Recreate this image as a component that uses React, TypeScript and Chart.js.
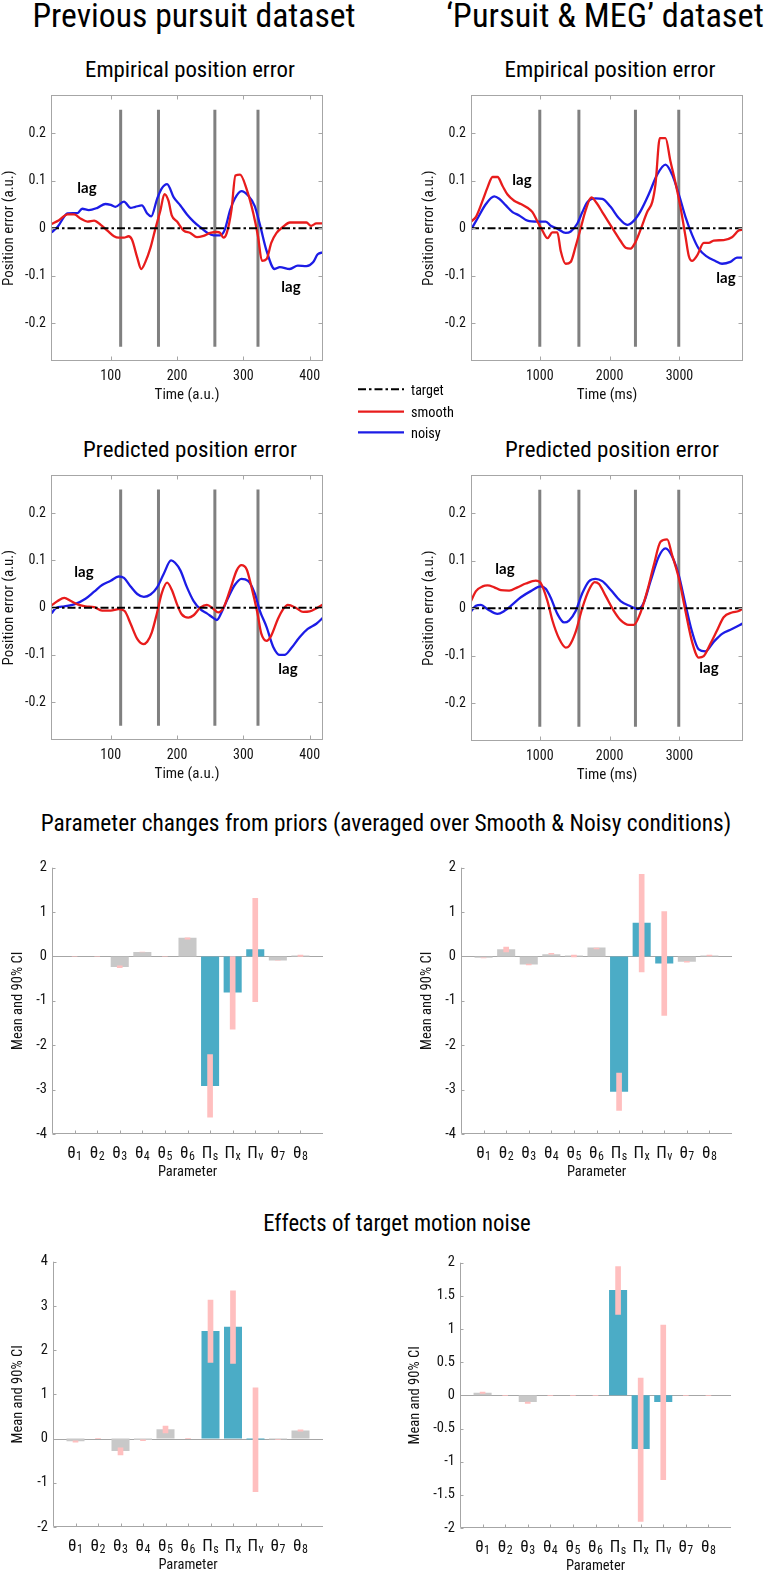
import React, { useEffect, useLayoutEffect, useRef } from 'react';
import { Chart, registerables } from 'chart.js';

Chart.register(...registerables);

// ---------------- data ----------------
const TIME_TICKS_AU = [100, 200, 300, 400];
const TIME_TICKS_MS = [1000, 2000, 3000];
const POS_TICKS = [-0.2, -0.1, 0, 0.1, 0.2];
const EVENTS_AU = [115, 172, 257, 322];
const EVENTS_MS = [1000, 1560, 2370, 2990];
const EVENT_SPAN = [-0.25, 0.25];

// Empirical, previous dataset
const EMP_PREV_SMOOTH_T = [11, 22, 35, 45, 55, 65, 75, 85, 95, 105, 112, 120, 127, 132, 140, 146, 152, 160, 167, 175, 181, 187, 192, 200, 210, 220, 230, 240, 250, 260, 265, 270, 275, 282, 288, 295, 305, 315, 322, 328, 335, 342, 350, 360, 370, 380, 395, 402, 410, 420];
const EMP_PREV_SMOOTH = [0.009, 0.017, 0.029, 0.029, 0.02, 0.014, 0.016, 0.007, -0.005, -0.017, -0.02, -0.02, -0.017, -0.024, -0.062, -0.086, -0.072, -0.041, -0.003, 0.038, 0.072, 0.058, 0.027, 0.014, -0.005, -0.01, -0.019, -0.016, -0.01, -0.008, -0.01, -0.02, -0.01, 0.038, 0.111, 0.113, 0.082, 0.031, -0.017, -0.069, -0.065, -0.031, -0.01, 0.003, 0.012, 0.012, 0.012, 0.005, 0.01, 0.01];
const EMP_PREV_NOISY_T = [11, 20, 35, 50, 57, 67, 80, 92, 100, 107, 120, 130, 137, 147, 155, 161, 170, 177, 185, 195, 205, 215, 225, 235, 245, 255, 265, 272, 280, 287, 297, 307, 317, 325, 335, 347, 355, 370, 382, 395, 405, 412, 420];
const EMP_PREV_NOISY = [-0.009, 0.003, 0.031, 0.032, 0.041, 0.038, 0.043, 0.051, 0.049, 0.045, 0.056, 0.043, 0.045, 0.048, 0.031, 0.025, 0.062, 0.084, 0.093, 0.065, 0.048, 0.029, 0.014, 0.002, -0.009, -0.015, -0.015, -0.003, 0.038, 0.062, 0.078, 0.069, 0.047, 0.007, -0.048, -0.086, -0.082, -0.086, -0.079, -0.08, -0.072, -0.055, -0.051];

// Empirical, Pursuit & MEG dataset
const EMP_MEG_SMOOTH_T = [15, 86, 181, 252, 324, 395, 467, 538, 633, 729, 824, 895, 967, 1038, 1110, 1181, 1252, 1300, 1371, 1443, 1514, 1586, 1657, 1738, 1814, 1895, 1967, 2062, 2157, 2229, 2300, 2371, 2443, 2538, 2610, 2657, 2719, 2800, 2871, 2943, 3014, 3086, 3133, 3181, 3252, 3348, 3419, 3490, 3633, 3752, 3848, 3910];
const EMP_MEG_SMOOTH = [0.014, 0.024, 0.058, 0.086, 0.108, 0.108, 0.089, 0.071, 0.058, 0.051, 0.043, 0.034, 0.014, -0.005, -0.021, -0.009, -0.009, -0.048, -0.075, -0.071, -0.038, 0, 0.038, 0.065, 0.053, 0.034, 0.017, -0.005, -0.027, -0.041, -0.043, -0.029, -0.003, 0.034, 0.055, 0.093, 0.19, 0.19, 0.141, 0.096, 0.045, -0.017, -0.058, -0.069, -0.058, -0.031, -0.031, -0.026, -0.025, -0.019, -0.005, -0.003];
const EMP_MEG_NOISY_T = [15, 110, 229, 348, 419, 514, 610, 705, 824, 967, 1086, 1157, 1252, 1371, 1443, 1538, 1610, 1681, 1800, 1895, 2014, 2133, 2252, 2348, 2443, 2562, 2681, 2800, 2895, 2990, 3086, 3181, 3276, 3395, 3514, 3610, 3729, 3824, 3910];
const EMP_MEG_NOISY = [-0.003, 0.021, 0.051, 0.067, 0.062, 0.048, 0.034, 0.027, 0.016, 0.014, 0.014, 0.005, -0.001, -0.01, -0.007, 0.01, 0.034, 0.055, 0.063, 0.062, 0.045, 0.021, 0.007, 0.016, 0.036, 0.072, 0.113, 0.134, 0.113, 0.072, 0.024, -0.014, -0.043, -0.06, -0.069, -0.075, -0.071, -0.062, -0.062];

// Predicted, previous dataset
const PRED_PREV_SMOOTH_T = [11, 20, 30, 40, 50, 62, 75, 87, 100, 112, 121, 130, 140, 149, 155, 162, 170, 177, 185, 192, 200, 207, 217, 225, 235, 245, 255, 262, 270, 280, 290, 297, 305, 312, 321, 327, 335, 342, 352, 360, 367, 380, 390, 400, 410, 420];
const PRED_PREV_SMOOTH = [0.005, 0.014, 0.021, 0.014, 0.007, 0.003, 0.001, -0.006, -0.006, -0.003, -0.007, -0.034, -0.066, -0.077, -0.072, -0.052, -0.01, 0.031, 0.053, 0.038, 0.007, -0.014, -0.021, -0.016, 0, 0.006, -0.003, -0.01, 0, 0.038, 0.079, 0.09, 0.081, 0.045, -0.01, -0.055, -0.07, -0.059, -0.024, -0.003, 0.006, -0.001, -0.009, -0.008, -0.001, 0.007];
const PRED_PREV_NOISY_T = [11, 17, 30, 45, 62, 75, 87, 100, 112, 120, 130, 140, 150, 160, 170, 180, 191, 197, 205, 215, 225, 235, 245, 255, 260, 267, 277, 287, 297, 307, 317, 325, 335, 345, 355, 362, 372, 385, 397, 410, 420];
const PRED_PREV_NOISY = [-0.012, -0.001, 0.003, 0.007, 0.019, 0.034, 0.048, 0.057, 0.066, 0.063, 0.045, 0.029, 0.023, 0.028, 0.043, 0.072, 0.1, 0.095, 0.079, 0.043, 0.014, -0.003, -0.012, -0.022, -0.026, -0.01, 0.021, 0.048, 0.061, 0.057, 0.031, -0.007, -0.041, -0.083, -0.1, -0.1, -0.086, -0.062, -0.045, -0.034, -0.021];

// Predicted, Pursuit & MEG dataset
const PRED_MEG_SMOOTH_T = [15, 86, 181, 252, 348, 443, 562, 681, 800, 943, 1014, 1110, 1181, 1276, 1371, 1419, 1514, 1610, 1705, 1786, 1848, 1943, 2062, 2157, 2276, 2348, 2443, 2538, 2633, 2729, 2824, 2895, 2990, 3086, 3181, 3276, 3348, 3443, 3538, 3633, 3752, 3848, 3910];
const PRED_MEG_SMOOTH = [0.015, 0.036, 0.046, 0.048, 0.044, 0.038, 0.037, 0.044, 0.052, 0.058, 0.053, 0.015, -0.026, -0.064, -0.083, -0.08, -0.05, 0.001, 0.039, 0.055, 0.051, 0.026, -0.006, -0.025, -0.035, -0.035, -0.009, 0.036, 0.091, 0.14, 0.145, 0.112, 0.064, -0.006, -0.071, -0.104, -0.101, -0.075, -0.047, -0.019, -0.009, -0.006, 0];
const PRED_MEG_NOISY_T = [15, 86, 157, 252, 395, 490, 610, 729, 871, 1014, 1086, 1157, 1252, 1348, 1419, 1514, 1610, 1705, 1800, 1895, 2014, 2157, 2300, 2405, 2490, 2586, 2705, 2800, 2895, 2990, 3086, 3181, 3276, 3371, 3490, 3610, 3752, 3910];
const PRED_MEG_NOISY = [-0.007, 0.005, 0.007, -0.002, -0.012, -0.006, 0.008, 0.023, 0.036, 0.046, 0.041, 0.022, -0.012, -0.03, -0.026, -0.006, 0.032, 0.057, 0.062, 0.057, 0.039, 0.015, 0.004, -0.002, 0.012, 0.057, 0.109, 0.126, 0.109, 0.07, 0.008, -0.05, -0.087, -0.091, -0.071, -0.054, -0.044, -0.032];

// Parameters
const PARAMETERS = ['θ1', 'θ2', 'θ3', 'θ4', 'θ5', 'θ6', 'Πs', 'Πx', 'Πv', 'θ7', 'θ8'];

const PRIOR_PREV_MEAN = [0, 0, -0.24, 0.1, 0, 0.42, -2.92, -0.81, 0.16, -0.09, 0.02];
const PRIOR_PREV_LO = [0, 0, -0.25, 0.1, 0, 0.39, -3.62, -1.64, -1.02, -0.09, 0.0];
const PRIOR_PREV_HI = [0, 0, -0.21, 0.1, 0, 0.42, -2.21, 0.0, 1.31, -0.09, 0.03];

const PRIOR_MEG_MEAN = [-0.03, 0.16, -0.18, 0.05, 0.02, 0.2, -3.05, 0.76, -0.16, -0.12, 0.02];
const PRIOR_MEG_LO = [-0.03, 0.1, -0.19, 0.05, -0.01, 0.17, -3.47, -0.35, -1.33, -0.13, 0.01];
const PRIOR_MEG_HI = [-0.03, 0.21, -0.17, 0.07, 0.03, 0.19, -2.63, 1.85, 1.01, -0.11, 0.03];

const NOISE_PREV_MEAN = [-0.06, 0, -0.28, -0.03, 0.21, 0, 2.43, 2.53, -0.02, -0.02, 0.18];
const NOISE_PREV_LO = [-0.08, 0, -0.37, -0.05, 0.13, 0, 1.72, 1.7, -1.2, -0.02, 0.17];
const NOISE_PREV_HI = [-0.05, 0, -0.21, -0.03, 0.28, 0, 3.13, 3.34, 1.15, -0.02, 0.2];

const NOISE_MEG_MEAN = [0.04, 0, -0.1, 0, 0, 0, 1.59, -0.81, -0.1, 0, 0];
const NOISE_MEG_LO = [0.03, 0, -0.12, 0, 0, 0, 1.22, -1.9, -1.27, 0, 0];
const NOISE_MEG_HI = [0.05, 0, -0.1, 0, 0, 0, 1.94, 0.26, 1.06, 0, 0];

const PRIOR_TICKS = [-4, -3, -2, -1, 0, 1, 2];
const NOISE_PREV_TICKS = [-2, -1, 0, 1, 2, 3, 4];
const NOISE_MEG_TICKS = [-2, -1.5, -1, -0.5, 0, 0.5, 1, 1.5, 2];

// ---------------- style ----------------
const FONT = "'Roboto Condensed', 'Liberation Sans', Arial, sans-serif";
const LAG_FONT = "Lato, 'Open Sans', sans-serif";
const RED = '#e81c1c';
const BLUE = '#1c1ce6';
const EVENT_GRAY = '#808080';
const BOX_GRAY = '#a6a6a6';
const TEAL = '#4bacc6';
const BAR_GRAY = '#c8c8c8';
const PINK = '#ffbfbf';
const TEXT = '#111111';

const LINE_TICK = 14;
const LINE_TITLE = 15;
const BAR_TICK = 14.5;
const BAR_TITLE = 14.5;
const CAT_SIZE = 17;
const SUB_SIZE = 12;

Chart.defaults.font.family = FONT;

const zip = (t: number[], v: number[]) => t.map((x, i) => ({ x, y: v[i] }));

// ---------------- plugins ----------------
const boxPlugin = {
  id: 'matlabBox',
  afterDatasetsDraw(chart: any) {
    const { ctx, chartArea: a, scales } = chart;
    const x = scales.x, y = scales.y;
    ctx.save();
    ctx.strokeStyle = BOX_GRAY;
    ctx.lineWidth = 1;
    const l = Math.round(a.left) + 0.5, r = Math.round(a.right) - 0.5;
    const t = Math.round(a.top) + 0.5, b = Math.round(a.bottom) - 0.5;
    ctx.strokeRect(l, t, r - l, b - t);
    ctx.beginPath();
    x.ticks.forEach((tk: any) => {
      const px = Math.round(x.getPixelForValue(tk.value)) + 0.5;
      ctx.moveTo(px, b); ctx.lineTo(px, b - 4);
      ctx.moveTo(px, t); ctx.lineTo(px, t + 4);
    });
    y.ticks.forEach((tk: any) => {
      const py = Math.round(y.getPixelForValue(tk.value)) + 0.5;
      ctx.moveTo(l, py); ctx.lineTo(l + 4, py);
      ctx.moveTo(r, py); ctx.lineTo(r - 4, py);
    });
    ctx.stroke();
    ctx.restore();
  },
};

const barAxesPlugin = {
  id: 'barAxes',
  beforeDatasetsDraw(chart: any) {
    const { ctx, chartArea: a, scales } = chart;
    const y0 = Math.round(scales.y.getPixelForValue(0)) + 0.5;
    ctx.save();
    ctx.strokeStyle = BOX_GRAY;
    ctx.lineWidth = 1;
    ctx.beginPath();
    ctx.moveTo(a.left, y0);
    ctx.lineTo(a.right, y0);
    ctx.stroke();
    ctx.restore();
  },
  afterDatasetsDraw(chart: any) {
    const { ctx, chartArea: a, scales } = chart;
    const x = scales.x, y = scales.y;
    ctx.save();
    ctx.strokeStyle = BOX_GRAY;
    ctx.lineWidth = 1;
    const lx = Math.round(a.left) + 0.5, by = Math.round(a.bottom) - 0.5;
    ctx.beginPath();
    ctx.moveTo(lx, a.top);
    ctx.lineTo(lx, by);
    ctx.lineTo(a.right, by);
    y.ticks.forEach((tk: any) => {
      const py = Math.round(y.getPixelForValue(tk.value)) + 0.5;
      ctx.moveTo(lx, py); ctx.lineTo(lx + 3, py);
    });
    PARAMETERS.forEach((_, i) => {
      const px = Math.round(x.getPixelForValue(i + 1)) + 0.5;
      ctx.moveTo(px, by); ctx.lineTo(px, by - 3);
    });
    ctx.stroke();
    // category labels with subscripts
    ctx.fillStyle = TEXT;
    ctx.textBaseline = 'alphabetic';
    ctx.textAlign = 'left';
    const mainFont = `${CAT_SIZE}px ${FONT}`, subFont = `${SUB_SIZE}px ${FONT}`;
    PARAMETERS.forEach((name, i) => {
      const base = name.slice(0, 1), sub = name.slice(1);
      ctx.font = mainFont;
      const mw = ctx.measureText(base).width;
      ctx.font = subFont;
      const sw = ctx.measureText(sub).width;
      const px = x.getPixelForValue(i + 1);
      const x0 = px - (mw + sw + 0.5) / 2;
      const yb = a.bottom + 23.5;
      ctx.font = mainFont;
      ctx.fillText(base, x0, yb);
      ctx.font = subFont;
      ctx.fillText(sub, x0 + mw + 0.5, yb + 2.5);
    });
    ctx.restore();
  },
};

// ---------------- components ----------------
function ChartCanvas({ left, top, width, height, build }: any) {
  const ref = useRef<HTMLCanvasElement>(null);
  useEffect(() => {
    const chart = new Chart(ref.current as HTMLCanvasElement, build());
    return () => chart.destroy();
  }, []);
  return (
    <canvas
      ref={ref}
      width={width}
      height={height}
      style={{ position: 'absolute', left, top, width, height }}
    />
  );
}

type LineProps = {
  x: number; y: number; w: number; h: number;
  xMin: number; xMax: number; xTicks: number[]; xTitle: string; events: number[];
  sT: number[]; sV: number[]; nT: number[]; nV: number[];
};

function LinePanel(p: LineProps) {
  const YW = 51, PT = 6, PR = 6, XH = 43;
  const width = YW + p.w + PR, height = PT + p.h + XH;
  const tickFont = { family: FONT, size: LINE_TICK };
  const titleFont = { family: FONT, size: LINE_TITLE };
  const build = () => ({
    type: 'line',
    data: {
      datasets: [
        {
          data: [{ x: p.xMin, y: 0 }, { x: p.xMax, y: 0 }],
          borderColor: '#000', borderWidth: 2, borderDash: [8, 3, 2.5, 3], pointRadius: 0,
        },
        {
          data: zip(p.sT, p.sV), borderColor: RED, borderWidth: 2.3, pointRadius: 0,
          cubicInterpolationMode: 'monotone',
        },
        {
          data: zip(p.nT, p.nV), borderColor: BLUE, borderWidth: 2.3, pointRadius: 0,
          cubicInterpolationMode: 'monotone',
        },
        ...p.events.map((e) => ({
          data: [{ x: e, y: EVENT_SPAN[0] }, { x: e, y: EVENT_SPAN[1] }],
          borderColor: EVENT_GRAY, borderWidth: 3, pointRadius: 0,
        })),
      ],
    },
    options: {
      animation: false, responsive: false, maintainAspectRatio: false, devicePixelRatio: 1,
      events: [],
      layout: { padding: { top: PT, right: PR, left: 0, bottom: 0 } },
      plugins: { legend: { display: false }, tooltip: { enabled: false }, title: { display: false } },
      scales: {
        x: {
          type: 'linear', min: p.xMin, max: p.xMax,
          afterBuildTicks: (s: any) => { s.ticks = p.xTicks.map((v) => ({ value: v })); },
          afterFit: (s: any) => { s.height = XH; },
          grid: { display: false, drawTicks: false }, border: { display: false },
          ticks: { padding: 7.5, font: tickFont, color: TEXT, maxRotation: 0, autoSkip: false, callback: (v: any) => String(v) },
          title: { display: true, text: p.xTitle, font: titleFont, color: TEXT, padding: 0 },
        },
        y: {
          type: 'linear', min: -0.28, max: 0.28,
          afterBuildTicks: (s: any) => { s.ticks = POS_TICKS.map((v) => ({ value: v })); },
          afterFit: (s: any) => { s.width = YW; },
          grid: { display: false, drawTicks: false }, border: { display: false },
          ticks: { padding: 5, font: tickFont, color: TEXT, autoSkip: false, callback: (v: any) => String(v) },
          title: { display: true, text: 'Position error (a.u.)', font: titleFont, color: TEXT, padding: 0 },
        },
      },
    },
    plugins: [boxPlugin],
  });
  return <ChartCanvas left={p.x - YW} top={p.y - PT} width={width} height={height} build={build} />;
}

type BarProps = {
  x: number; y: number; w: number; h: number; yw: number;
  yMin: number; yMax: number; yTicks: number[];
  mean: number[]; lo: number[]; hi: number[];
};

function BarPanel(p: BarProps) {
  const PT = 9, PR = 4, XH = 47;
  const width = p.yw + p.w + PR, height = PT + p.h + XH;
  const tickFont = { family: FONT, size: BAR_TICK };
  const titleFont = { family: FONT, size: BAR_TITLE };
  const build = () => ({
    type: 'bar',
    data: {
      datasets: [
        {
          data: PARAMETERS.map((_, i) => ({ x: i + 1, y: [p.lo[i], p.hi[i]] })),
          backgroundColor: PINK, barThickness: 5, grouped: false, order: 0, borderWidth: 0,
        },
        {
          data: PARAMETERS.map((_, i) => ({ x: i + 1, y: p.mean[i] })),
          backgroundColor: PARAMETERS.map((n) => (n.startsWith('Π') ? TEAL : BAR_GRAY)),
          barPercentage: 0.8, categoryPercentage: 1, grouped: false, order: 1, borderWidth: 0,
        },
      ],
    },
    options: {
      animation: false, responsive: false, maintainAspectRatio: false, devicePixelRatio: 1,
      events: [],
      layout: { padding: { top: PT, right: PR, left: 0, bottom: 0 } },
      plugins: { legend: { display: false }, tooltip: { enabled: false }, title: { display: false } },
      scales: {
        x: {
          type: 'linear', min: 0, max: PARAMETERS.length + 1, offset: false,
          afterFit: (s: any) => { s.height = XH; },
          grid: { display: false, drawTicks: false }, border: { display: false },
          ticks: { display: false },
          title: { display: true, text: 'Parameter', font: titleFont, color: TEXT, padding: 0 },
        },
        y: {
          type: 'linear', min: p.yMin, max: p.yMax,
          afterBuildTicks: (s: any) => { s.ticks = p.yTicks.map((v) => ({ value: v })); },
          afterFit: (s: any) => { s.width = p.yw; },
          grid: { display: false, drawTicks: false }, border: { display: false },
          ticks: { padding: 5, font: tickFont, color: TEXT, autoSkip: false, callback: (v: any) => String(v) },
          title: { display: true, text: 'Mean and 90% CI', font: titleFont, color: TEXT, padding: 0 },
        },
      },
    },
    plugins: [barAxesPlugin],
  });
  return <ChartCanvas left={p.x - p.yw} top={p.y - PT} width={width} height={height} build={build} />;
}

// Text fitted to a measured target width (horizontal scaling only)
function Label({ x, y, text, size, width, weight = 400, family = FONT, anchor = 'center' }: any) {
  const ref = useRef<HTMLDivElement>(null);
  const tx = anchor === 'center' ? '-50%' : '0';
  useLayoutEffect(() => {
    const el = ref.current;
    if (!el || !width) return;
    const w = el.offsetWidth;
    if (w > 0) el.style.transform = `translate(${tx}, -50%) scaleX(${width / w})`;
  }, []);
  return (
    <div
      ref={ref}
      style={{
        position: 'absolute', left: x, top: y, whiteSpace: 'nowrap', fontSize: size, lineHeight: 1,
        fontFamily: family, fontWeight: weight, color: '#000',
        transform: `translate(${tx}, -50%)`,
        transformOrigin: anchor === 'center' ? '50% 50%' : '0 50%',
      }}
    >
      {text}
    </div>
  );
}

function Lag({ x, y }: any) {
  return <Label x={x} y={y - 1.5} text="lag" size={15} weight={700} family={LAG_FONT} />;
}

export default function App() {
  return (
    <div
      style={{
        position: 'absolute', left: 0, top: 0, width: 768, height: 1574,
        background: '#fff', overflow: 'hidden', fontFamily: FONT,
      }}
    >
      <Label x={193.5} y={15.7} text="Previous pursuit dataset" size={33.5} width={323} />
      <Label x={605} y={15.7} text="‘Pursuit & MEG’ dataset" size={33.5} width={318} />

      <Label x={190} y={70.3} text="Empirical position error" size={21.5} width={210} />
      <Label x={610} y={70.3} text="Empirical position error" size={21.5} width={211} />
      <Label x={190} y={450} text="Predicted position error" size={21.5} width={214} />
      <Label x={612} y={450} text="Predicted position error" size={21.5} width={214} />

      <LinePanel x={51} y={88} w={272} h={273} xMin={10} xMax={420} xTicks={TIME_TICKS_AU}
        xTitle="Time (a.u.)" events={EVENTS_AU}
        sT={EMP_PREV_SMOOTH_T} sV={EMP_PREV_SMOOTH} nT={EMP_PREV_NOISY_T} nV={EMP_PREV_NOISY} />
      <LinePanel x={471} y={88} w={272} h={273} xMin={15} xMax={3910} xTicks={TIME_TICKS_MS}
        xTitle="Time (ms)" events={EVENTS_MS}
        sT={EMP_MEG_SMOOTH_T} sV={EMP_MEG_SMOOTH} nT={EMP_MEG_NOISY_T} nV={EMP_MEG_NOISY} />
      <LinePanel x={51} y={468} w={272} h={272} xMin={10} xMax={420} xTicks={TIME_TICKS_AU}
        xTitle="Time (a.u.)" events={EVENTS_AU}
        sT={PRED_PREV_SMOOTH_T} sV={PRED_PREV_SMOOTH} nT={PRED_PREV_NOISY_T} nV={PRED_PREV_NOISY} />
      <LinePanel x={471} y={468} w={272} h={273} xMin={15} xMax={3910} xTicks={TIME_TICKS_MS}
        xTitle="Time (ms)" events={EVENTS_MS}
        sT={PRED_MEG_SMOOTH_T} sV={PRED_MEG_SMOOTH} nT={PRED_MEG_NOISY_T} nV={PRED_MEG_NOISY} />

      <Lag x={87} y={188} />
      <Lag x={291} y={287} />
      <Lag x={522} y={180} />
      <Lag x={726} y={278} />
      <Lag x={84} y={572} />
      <Lag x={288} y={669} />
      <Lag x={505} y={569} />
      <Lag x={709} y={668} />

      <svg style={{ position: 'absolute', left: 350, top: 380, overflow: 'visible' }} width={60} height={60}>
        <line x1={8} y1={9.3} x2={54} y2={9.3} stroke="#000" strokeWidth={2} strokeDasharray="8 3 2.5 3" />
        <line x1={8} y1={31.7} x2={54} y2={31.7} stroke={RED} strokeWidth={2.3} />
        <line x1={8} y1={52.3} x2={54} y2={52.3} stroke={BLUE} strokeWidth={2.3} />
      </svg>
      <Label x={410.7} y={389.5} text="target" size={15} width={32.7} anchor="left" />
      <Label x={410.7} y={411.7} text="smooth" size={15} width={43} anchor="left" />
      <Label x={410.7} y={433} text="noisy" size={15} width={29.5} anchor="left" />

      <Label x={385.5} y={823} text="Parameter changes from priors (averaged over Smooth & Noisy conditions)" size={23} width={691} />
      <BarPanel x={52} y={863} w={271} h={271} yw={42} yMin={-4} yMax={2} yTicks={PRIOR_TICKS}
        mean={PRIOR_PREV_MEAN} lo={PRIOR_PREV_LO} hi={PRIOR_PREV_HI} />
      <BarPanel x={461} y={863} w={271} h={271} yw={42} yMin={-4} yMax={2} yTicks={PRIOR_TICKS}
        mean={PRIOR_MEG_MEAN} lo={PRIOR_MEG_LO} hi={PRIOR_MEG_HI} />

      <Label x={397} y={1223.3} text="Effects of target motion noise" size={23} width={268} />
      <BarPanel x={53} y={1257} w={270} h={270} yw={43} yMin={-2} yMax={4} yTicks={NOISE_PREV_TICKS}
        mean={NOISE_PREV_MEAN} lo={NOISE_PREV_LO} hi={NOISE_PREV_HI} />
      <BarPanel x={460} y={1258} w={271} h={270} yw={53} yMin={-2} yMax={2} yTicks={NOISE_MEG_TICKS}
        mean={NOISE_MEG_MEAN} lo={NOISE_MEG_LO} hi={NOISE_MEG_HI} />
    </div>
  );
}
